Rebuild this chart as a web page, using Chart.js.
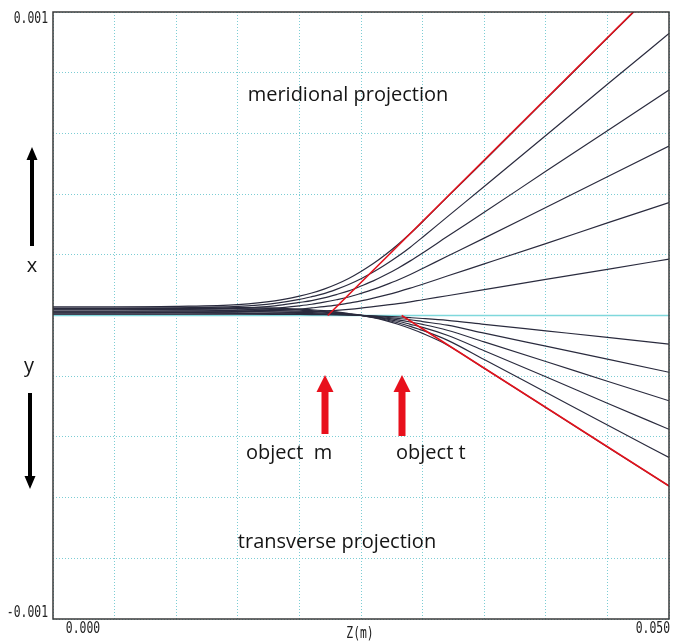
<!DOCTYPE html>
<html>
<head>
<meta charset="utf-8">
<script src="https://cdn.jsdelivr.net/npm/chart.js@4/dist/chart.umd.min.js"></script>
<style>
    body { margin: 0; background: #ffffff; }
    #wrap { width: 678px; height: 641px; position: relative; }
</style>
</head>
<body>
<div id="wrap"><canvas id="feixeChart"></canvas></div>
<script>
// z positions of the samples (mm)
const zMm = [0, 5, 10, 15, 18, 20, 21, 22, 23, 24, 25, 26, 27, 28, 29, 30, 32, 35, 40, 45, 50];

// meridional projection (x), ray offsets in micrometres
const m1 = [5, 5, 5, 6, 8, 11, 12, 15, 17, 20, 24, 29, 34, 39, 45, 52, 65, 85, 119, 152, 186];
const m2 = [9, 9, 10, 12, 16, 21, 25, 29, 34, 41, 48, 57, 67, 78, 90, 103, 130, 170, 237, 305, 372];
const m3 = [14, 14, 15, 18, 24, 32, 37, 44, 52, 61, 73, 86, 101, 117, 135, 155, 195, 255, 356, 457, 558];
const m4 = [19, 19, 20, 24, 32, 43, 49, 58, 69, 81, 97, 114, 134, 156, 180, 206, 260, 340, 475, 609, 743];
const m5 = [23, 23, 25, 30, 40, 53, 62, 72, 86, 102, 121, 143, 168, 195, 225, 258, 325, 425, 593, 762, 929];
const m6 = [28, 28, 30, 36, 48, 64, 74, 87, 103, 122, 145, 171, 201, 234, 270, 309, 390, 510, 712, 914, 1115];

// transverse projection (y), ray offsets in micrometres
const t1 = [4.7, 4.7, 4.7, 4.5, 4, 3.5, 3.2, 2.7, 2, 1.1, 0.1, -1.2, -2.8, -4.8, -7.2, -9.8, -16, -29, -50.5, -72, -94];
const t2 = [9, 9, 9, 9, 8, 7, 6.3, 5.3, 4, 2.2, 0.2, -2.3, -5.7, -9.7, -14, -20, -32, -58, -101, -144, -187];
const t3 = [14, 14, 14, 13.5, 12, 10.5, 9.5, 8, 6, 3.2, 0.3, -3.5, -8.5, -14.5, -21.5, -29.5, -48.5, -87, -151.5, -216.5, -281];
const t4 = [19, 19, 19, 18, 16, 14, 13, 11, 8, 4.3, 0.4, -5, -11, -19, -29, -39, -65, -116, -202, -289, -375];
const t5 = [23, 23, 23, 22.5, 20, 17.5, 16, 13, 10, 5.4, 0.5, -6, -14, -24, -36, -49, -81, -145, -253, -361, -468];
const t6 = [28, 28, 28, 27, 24, 21, 19, 16, 12, 6.5, 0.6, -7, -17, -29, -43, -59, -97, -174, -303, -433, -562];

// asymptotes (virtual objects m and t)
const asymMz = [22.3, 50];
const asymMy = [0, 1117];
const asymTz = [28.3, 50];
const asymTy = [0, -562];

// optical axis
const axisZ = [0, 50];
const axisY = [0, 0];

const xTickLabels = ["0.000", "0.050"];
const yTickLabels = ["0.001", "-0.001"];
const xTitle = "Z(m)";

function pontos(zs, ys) {
    return zs.map((z, i) => ({ x: z, y: ys[i] }));
}

function raio(ys) {
    return {
        data: pontos(zMm, ys),
        borderColor: "#2a2b3e",
        borderWidth: 1.2,
        pointRadius: 0,
        cubicInterpolationMode: "monotone",
        order: 1
    };
}

function seta(ctx, x, topo, base, cor, largHaste, largPonta, altPonta, paraCima) {
    ctx.save();
    ctx.fillStyle = cor;
    ctx.beginPath();
    if (paraCima) {
        ctx.moveTo(x, topo);
        ctx.lineTo(x + largPonta / 2, topo + altPonta);
        ctx.lineTo(x + largHaste / 2, topo + altPonta);
        ctx.lineTo(x + largHaste / 2, base);
        ctx.lineTo(x - largHaste / 2, base);
        ctx.lineTo(x - largHaste / 2, topo + altPonta);
        ctx.lineTo(x - largPonta / 2, topo + altPonta);
    } else {
        ctx.moveTo(x, base);
        ctx.lineTo(x + largPonta / 2, base - altPonta);
        ctx.lineTo(x + largHaste / 2, base - altPonta);
        ctx.lineTo(x + largHaste / 2, topo);
        ctx.lineTo(x - largHaste / 2, topo);
        ctx.lineTo(x - largHaste / 2, base - altPonta);
        ctx.lineTo(x - largPonta / 2, base - altPonta);
    }
    ctx.closePath();
    ctx.fill();
    ctx.restore();
}

// narrow monospace text, like the old plotting program
function textoEstreito(ctx, texto, x, y, alinhamento) {
    ctx.save();
    ctx.translate(x, y);
    ctx.scale(0.76, 1);
    ctx.textAlign = alinhamento;
    ctx.fillText(texto, 0, 0);
    ctx.restore();
}

const anotacoes = {
    id: "anotacoes",
    afterDraw(chart) {
        const ctx = chart.ctx;
        const area = chart.chartArea;
        const sx = chart.scales.x;
        const sy = chart.scales.y;

        // frame
        ctx.save();
        ctx.strokeStyle = "#3a3a3a";
        ctx.lineWidth = 1.5;
        ctx.strokeRect(area.left, area.top, area.right - area.left, area.bottom - area.top);

        // tick labels
        ctx.fillStyle = "#222222";
        ctx.font = "15px 'DejaVu Sans Mono'";
        ctx.textBaseline = "middle";
        textoEstreito(ctx, yTickLabels[0], area.left - 5, sy.getPixelForValue(1000) + 7, "right");
        textoEstreito(ctx, yTickLabels[1], area.left - 5, sy.getPixelForValue(-1000) - 6, "right");
        textoEstreito(ctx, xTickLabels[0], sx.getPixelForValue(0) + 30, area.bottom + 10, "center");
        textoEstreito(ctx, xTickLabels[1], sx.getPixelForValue(50) + 1, area.bottom + 10, "right");
        ctx.font = "15px 'DejaVu Sans Mono'";
        textoEstreito(ctx, xTitle, sx.getPixelForValue(25) - 1, area.bottom + 15, "center");

        // annotations
        ctx.fillStyle = "#151515";
        ctx.font = "20px 'Open Sans'";
        ctx.textBaseline = "alphabetic";
        ctx.textAlign = "center";
        ctx.fillText("meridional projection", 348, 101);
        ctx.fillText("transverse projection", 337, 548);
        ctx.textAlign = "left";
        ctx.fillText("object  m", 246, 459);
        ctx.fillText("object t", 396, 459);
        ctx.textAlign = "center";
        ctx.fillText("x", 32, 272);
        ctx.fillText("y", 29, 372);
        ctx.restore();

        seta(ctx, 325, 375, 434, "#e8101c", 7, 17, 17, true);
        seta(ctx, 402, 375, 436, "#e8101c", 7, 17, 17, true);
        seta(ctx, 32, 147, 246, "#000000", 4, 11, 13, true);
        seta(ctx, 30, 393, 489, "#000000", 4, 11, 13, false);
    }
};

const grade = {
    color: "#7ccdd4",
    lineWidth: 1,
    drawTicks: false
};

new Chart(document.getElementById("feixeChart").getContext("2d"), {
    type: "line",
    data: {
        datasets: [
            {
                data: pontos(asymMz, asymMy),
                borderColor: "#e2121c",
                borderWidth: 1.6,
                pointRadius: 0,
                order: 0
            },
            {
                data: pontos(asymTz, asymTy),
                borderColor: "#e2121c",
                borderWidth: 1.6,
                pointRadius: 0,
                order: 0
            },
            raio(m6), raio(m5), raio(m4), raio(m3), raio(m2), raio(m1),
            raio(t6), raio(t5), raio(t4), raio(t3), raio(t2), raio(t1),
            {
                data: pontos(axisZ, axisY),
                borderColor: "#7fd8dc",
                borderWidth: 1.5,
                pointRadius: 0,
                order: 2
            }
        ]
    },
    options: {
        responsive: true,
        maintainAspectRatio: false,
        animation: false,
        events: [],
        layout: {
            padding: { left: 53, right: 9, top: 12, bottom: 22 }
        },
        plugins: {
            legend: { display: false },
            tooltip: { enabled: false }
        },
        scales: {
            x: {
                type: "linear",
                min: 0,
                max: 50,
                ticks: { display: false, stepSize: 5 },
                grid: grade,
                border: { display: false, dash: [1, 2] }
            },
            y: {
                type: "linear",
                min: -1000,
                max: 1000,
                ticks: { display: false, stepSize: 200 },
                grid: grade,
                border: { display: false, dash: [1, 2] }
            }
        }
    },
    plugins: [anotacoes]
});
</script>
</body>
</html>
